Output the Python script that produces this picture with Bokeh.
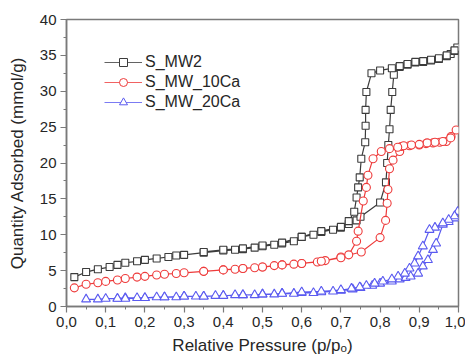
from bokeh.plotting import figure
from bokeh.models import FixedTicker, Legend, LegendItem
from bokeh.embed import file_html
from bokeh.resources import INLINE

# ---- data (relative pressure p/p0, quantity adsorbed mmol/g) ----
mw2_p = [0.02, 0.05, 0.08, 0.11, 0.13, 0.15, 0.18, 0.20, 0.23, 0.26, 0.28, 0.30, 0.35, 0.40,
         0.43, 0.45, 0.48, 0.50, 0.53, 0.55, 0.58, 0.60, 0.63, 0.65, 0.68, 0.70, 0.72, 0.74,
         0.75, 0.80, 0.815, 0.818, 0.821, 0.824, 0.827, 0.831, 0.835, 0.85, 0.87, 0.89, 0.91,
         0.93, 0.95, 0.97, 0.98, 0.99, 0.997,
         0.99, 0.97, 0.95, 0.93, 0.91, 0.89, 0.87, 0.85, 0.83, 0.80, 0.778, 0.765, 0.763, 0.763,
         0.762, 0.752, 0.748, 0.744, 0.74, 0.734, 0.72, 0.70, 0.65, 0.60, 0.55, 0.50, 0.45,
         0.40, 0.35]
mw2_q = [4.1, 4.8, 5.2, 5.5, 5.8, 6.1, 6.3, 6.5, 6.7, 6.9, 7.1, 7.2, 7.5, 7.8,
         7.9, 8.0, 8.2, 8.4, 8.6, 8.8, 9.1, 9.7, 10.0, 10.4, 10.7, 11.0, 11.5, 12.0,
         12.5, 14.5, 17.3, 20.0, 22.5, 24.7, 27.4, 29.9, 32.3, 33.4, 33.7, 34.0, 34.1,
         34.3, 34.5, 34.9, 35.2, 35.6, 36.1,
         35.7, 35.0, 34.6, 34.4, 34.2, 34.1, 33.8, 33.5, 33.2, 32.9, 32.5, 29.9, 27.4, 25.2,
         22.9, 20.6, 18.0, 16.6, 15.2, 13.2, 11.9, 11.1, 10.5, 9.7, 8.9, 8.5, 8.1,
         7.9, 7.6]

ca10_p = [0.02, 0.05, 0.08, 0.10, 0.13, 0.15, 0.18, 0.20, 0.23, 0.25, 0.28, 0.30, 0.35, 0.40,
          0.43, 0.45, 0.48, 0.50, 0.53, 0.55, 0.58, 0.60, 0.64, 0.66, 0.70, 0.752, 0.80, 0.814,
          0.818, 0.82, 0.824, 0.833, 0.85, 0.854, 0.875, 0.90, 0.917, 0.935, 0.952, 0.969,
          0.981, 0.994,
          0.98, 0.96, 0.94, 0.92, 0.90, 0.88, 0.86, 0.845, 0.824, 0.803, 0.782, 0.769, 0.765,
          0.757, 0.744, 0.74, 0.72, 0.70, 0.65, 0.60, 0.55, 0.50, 0.45, 0.40, 0.35]
ca10_q = [2.6, 3.1, 3.3, 3.5, 3.7, 3.9, 4.1, 4.2, 4.4, 4.5, 4.6, 4.7, 4.9, 5.1,
          5.2, 5.3, 5.4, 5.5, 5.7, 5.8, 5.9, 6.0, 6.2, 6.4, 6.9, 7.6, 9.6, 12.0,
          14.4, 16.3, 19.2, 20.4, 21.6, 22.3, 22.4, 22.5, 22.7, 22.8, 22.9, 23.0,
          23.7, 24.6,
          23.5, 23.0, 22.9, 22.8, 22.6, 22.5, 22.4, 22.2, 22.0, 21.6, 20.6, 18.3, 16.6,
          14.7, 10.5, 9.1, 7.2, 6.8, 6.3, 6.0, 5.8, 5.5, 5.3, 5.1, 4.9]

ca20_p = [0.05, 0.08, 0.10, 0.13, 0.15, 0.18, 0.20, 0.23, 0.25, 0.28, 0.30, 0.33, 0.35, 0.38,
          0.40, 0.43, 0.45, 0.48, 0.50, 0.53, 0.55, 0.58, 0.60, 0.63, 0.65, 0.68, 0.70, 0.73,
          0.75, 0.78, 0.80, 0.83, 0.85, 0.865, 0.878, 0.897, 0.909, 0.922, 0.935, 0.943,
          0.96, 0.975, 0.99, 0.998,
          0.99, 0.975, 0.96, 0.94, 0.926, 0.909, 0.897, 0.888, 0.875, 0.863, 0.846, 0.83,
          0.807, 0.786, 0.765, 0.748, 0.727, 0.70, 0.65, 0.60, 0.55, 0.50, 0.45, 0.40, 0.35,
          0.30, 0.25, 0.20, 0.15, 0.13]
ca20_q = [1.0, 1.0, 1.1, 1.1, 1.2, 1.2, 1.2, 1.3, 1.3, 1.3, 1.4, 1.4, 1.4, 1.5,
          1.5, 1.6, 1.6, 1.6, 1.7, 1.7, 1.8, 1.8, 1.9, 1.9, 2.0, 2.1, 2.2, 2.4,
          2.6, 2.9, 3.2, 3.5, 3.8, 4.0, 4.2, 4.6, 5.6, 6.5, 7.9, 8.8,
          11.4, 11.8, 12.3, 13.2,
          12.6, 12.1, 11.6, 11.0, 10.7, 8.4, 7.0, 6.0, 5.3, 4.6, 4.2, 3.8,
          3.5, 3.2, 2.9, 2.7, 2.5, 2.3, 2.1, 2.0, 1.8, 1.7, 1.6, 1.5, 1.4,
          1.4, 1.3, 1.2, 1.1, 1.1]

series_names = ["S_MW2", "S_MW_10Ca", "S_MW_20Ca"]

x_ticks = [0.0, 0.1, 0.2, 0.3, 0.4, 0.5, 0.6, 0.7, 0.8, 0.9, 1.0]
x_tick_labels = ["0,0", "0,1", "0,2", "0,3", "0,4", "0,5", "0,6", "0,7", "0,8", "0,9", "1,0"]
x_minor = [0.05, 0.15, 0.25, 0.35, 0.45, 0.55, 0.65, 0.75, 0.85, 0.95]
y_ticks = [0, 5, 10, 15, 20, 25, 30, 35, 40]
y_minor = [2.5, 7.5, 12.5, 17.5, 22.5, 27.5, 32.5, 37.5]

FONT = "Liberation Sans"
AX = "#7a7a7a"
TXT = "#262626"

p = figure(frame_width=392, frame_height=287, x_range=(0, 1), y_range=(0, 40),
           output_backend="svg", toolbar_location=None,
           min_border_left=66, min_border_right=7, min_border_top=19, min_border_bottom=49)

p.xgrid.visible = False
p.ygrid.visible = False
p.outline_line_color = AX
p.outline_line_width = 1.5

p.xaxis.ticker = FixedTicker(ticks=x_ticks, minor_ticks=x_minor)
p.xaxis.major_label_overrides = {t: l for t, l in zip(x_ticks, x_tick_labels)}
p.yaxis.ticker = FixedTicker(ticks=y_ticks, minor_ticks=y_minor)

for ax in (p.xaxis[0], p.yaxis[0]):
    ax.axis_line_color = AX
    ax.axis_line_width = 1.5
    ax.major_tick_line_color = AX
    ax.minor_tick_line_color = AX
    ax.major_tick_line_width = 1.2
    ax.minor_tick_line_width = 1.0
    ax.major_tick_in = 0
    ax.major_tick_out = 6
    ax.minor_tick_in = 0
    ax.minor_tick_out = 3
    ax.major_label_text_font = FONT
    ax.major_label_text_font_size = "15px"
    ax.major_label_text_color = TXT
    ax.axis_label_text_font = FONT
    ax.axis_label_text_font_size = "17px"
    ax.axis_label_text_font_style = "normal"
    ax.axis_label_text_color = TXT

p.xaxis.axis_label = "Relative Pressure (p/pₒ)"
p.yaxis.axis_label = "Quantity Adsorbed (mmol/g)"
p.xaxis.major_label_standoff = 4
p.yaxis.major_label_standoff = 4
p.xaxis.axis_label_standoff = 6
p.yaxis.axis_label_standoff = 10

colors = ["#3c3c3c", "#ee3b3b", "#5a5af0"]
markers = ["square", "circle", "triangle"]
sizes = [7, 8, 9]
data = [(mw2_p, mw2_q), (ca10_p, ca10_q), (ca20_p, ca20_q)]

items = []
for (xs, ys), c, m, s, name in zip(data, colors, markers, sizes, series_names):
    p.line(xs, ys, line_color=c, line_width=1.2)
    p.scatter(xs, ys, marker=m, size=s, line_color=c, line_width=1.1, fill_color="white")
    # legend-only sample renderers, placed outside the visible ranges
    lg_ln = p.line([-10, -9], [-10, -9], line_color=c, line_width=1.2, line_alpha=0.8)
    lg_sc = p.scatter([-10], [-10], marker=m, size=6, line_color=c, line_width=1.0,
                      fill_color="white")
    items.append(LegendItem(label=name, renderers=[lg_ln, lg_sc]))

legend = Legend(items=items, location=(38, 194))
legend.glyph_width = 38
legend.glyph_height = 20
legend.label_height = 20
legend.label_standoff = 3
legend.spacing = 0
legend.padding = 0
legend.margin = 0
legend.border_line_alpha = 0
legend.background_fill_alpha = 0
legend.label_text_font = FONT
legend.label_text_font_size = "16px"
legend.label_text_color = TXT
p.add_layout(legend, "center")

open("out.html", "w").write(file_html(p, INLINE))
